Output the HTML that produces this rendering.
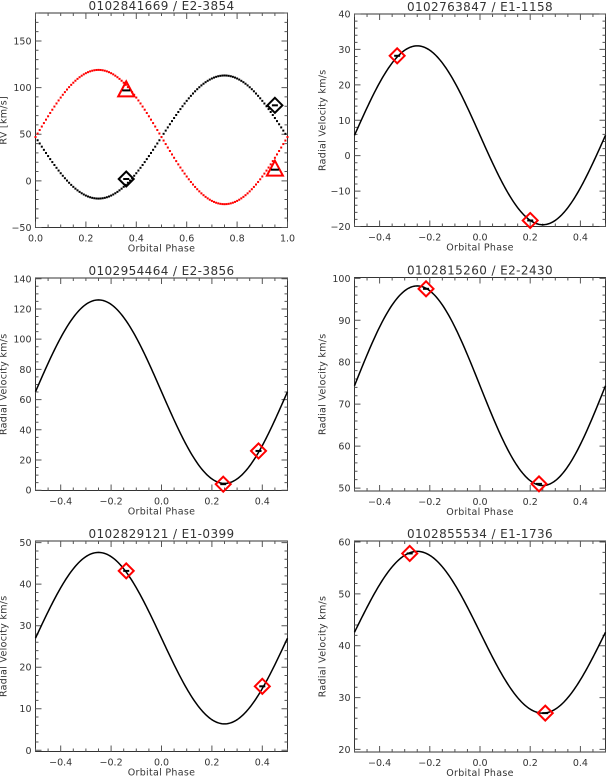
<!DOCTYPE html>
<html><head><meta charset="utf-8"><style>
body{margin:0;background:#fff;}
svg{display:block;font-family:"DejaVu Sans","Liberation Sans",sans-serif;}
text{fill:#333;}
</style></head><body>
<svg id="c" width="607" height="777" viewBox="0 0 607 777"></svg>
<script>
// Panel 1 (double-lined)
const p1Phase = [0.36, 0.95];
const p1Primary = [2, 81];
const p1Secondary = [97, 12];
const p1Gamma = [47, 47];
const p1K = [66, 72];
// Single-lined panels
const titles = ["0102763847 / E1-1158","0102954464 / E2-3856","0102815260 / E2-2430","0102829121 / E1-0399","0102855534 / E1-1736"];
const gammas = [5.75, 65.25, 74.4, 27.0, 42.6];
const amps = [25.25, 60.75, 23.8, 20.65, 15.6];
const obsPhase = [[-0.33,0.20],[0.245,0.385],[-0.215,0.235],[-0.14,0.40],[-0.28,0.26]];
const obsRV = [[28.2,-18.3],[4.0,26.0],[97.5,51.0],[43.2,15.4],[57.8,27.0]];
const yTicks = [[-20,-10,0,10,20,30,40],[0,20,40,60,80,100,120,140],[50,60,70,80,90,100],[0,10,20,30,40,50],[20,30,40,50,60]];
const xTicks = [-0.4,-0.2,0.0,0.2,0.4];
const p1XTicks = [0.0,0.2,0.4,0.6,0.8,1.0];
const p1YTicks = [-50,0,50,100,150];

const NS="http://www.w3.org/2000/svg";
const svg=document.getElementById('c');
function el(t,a,p){const e=document.createElementNS(NS,t);for(const k in a)e.setAttribute(k,a[k]);(p||svg).appendChild(e);return e;}

const boxes=[
 {x0:35.5,x1:287.5,y0:13,y1:227.5,xmin:0,xmax:1,ymin:-50,ymax:180,xminor:0.05,yminor:10},
 {x0:354.5,x1:605.5,y0:14,y1:226.5,xmin:-0.5,xmax:0.5,ymin:-20,ymax:40,xminor:0.05,yminor:2},
 {x0:35.5,x1:287.5,y0:278,y1:490.5,xmin:-0.5,xmax:0.5,ymin:-0.2,ymax:140.5,xminor:0.05,yminor:5},
 {x0:354.5,x1:605.5,y0:277.5,y1:491,xmin:-0.5,xmax:0.5,ymin:49.3,ymax:100.2,xminor:0.05,yminor:2},
 {x0:35.5,x1:287.5,y0:541,y1:751.5,xmin:-0.5,xmax:0.5,ymin:-0.3,ymax:50.4,xminor:0.05,yminor:2},
 {x0:354.5,x1:605.5,y0:541,y1:752,xmin:-0.5,xmax:0.5,ymin:19.5,ymax:60.2,xminor:0.05,yminor:2}
];
function sx(b,v){return b.x0+(v-b.xmin)/(b.xmax-b.xmin)*(b.x1-b.x0);}
function sy(b,v){return b.y1-(v-b.ymin)/(b.ymax-b.ymin)*(b.y1-b.y0);}

function axes(b,i,title,xt,yt,ytitle){
  const g=el('g',{});
  
  
  const r=el('rect',{x:b.x0,y:b.y0,width:b.x1-b.x0,height:b.y1-b.y0,fill:'none',stroke:'#333','stroke-width':1},g);
  
  
  const cx=(b.x0+b.x1)/2;
  const t=el('text',{x:cx,y:b.y0-3,'text-anchor':'middle','font-size':12,'letter-spacing':0.4},g);t.textContent=title;
  
  
  const xt2=el('text',{x:cx,y:b.y1+24,'text-anchor':'middle','font-size':9.5,'letter-spacing':0.3},g);xt2.textContent='Orbital Phase';
  
  
  const yx=b.x0-29, yy=(b.y0+b.y1)/2;
  const yt2=el('text',{x:yx,y:yy,'text-anchor':'middle','font-size':9.5,'letter-spacing':0.3,transform:`rotate(-90 ${yx} ${yy})`},g);yt2.textContent=ytitle;
  
  
  let d='';
  for(let v=b.xmin;v<=b.xmax+1e-9;v+=b.xminor){const x=sx(b,v);d+=`M${x} ${b.y1}v-3M${x} ${b.y0}v3`;}
  for(let v=Math.ceil(b.ymin/b.yminor)*b.yminor;v<=b.ymax+1e-9;v+=b.yminor){const y=sy(b,v);d+=`M${b.x0} ${y}h3M${b.x1} ${y}h-3`;}
  xt.forEach(v=>{const x=sx(b,v);d+=`M${x} ${b.y1}v-6M${x} ${b.y0}v6`;
    const l=el('text',{x:x,y:b.y1+14,'text-anchor':'middle','font-size':9.5},g);l.textContent=v.toFixed(1).replace('-','\u2212');
    
    });
  yt.forEach(v=>{const y=sy(b,v);d+=`M${b.x0} ${y}h6M${b.x1} ${y}h-6`;
    const l=el('text',{x:b.x0-4,y:y+3.5,'text-anchor':'end','font-size':9.5},g);l.textContent=String(v).replace('-','\u2212');
    
    });
  const tk=el('path',{d:d,stroke:'#555','stroke-width':1,fill:'none'},g);
  
  
  return g;
}
function diamond(g,x,y,col){
  const s=7.5;
  const m=el('path',{d:`M${x} ${y-s}L${x+s} ${y}L${x} ${y+s}L${x-s} ${y}Z`,fill:'none',stroke:col,'stroke-width':2},g);
  
  
  const e=el('path',{d:`M${x-3} ${y}h6`,stroke:'#000','stroke-width':2},g);
  
  
}
function triangle(g,x,y){
  const m=el('path',{d:`M${x} ${y-9}L${x+8} ${y+6}L${x-8} ${y+6}Z`,fill:'none',stroke:'#f00','stroke-width':2},g);
  
  
  const e=el('path',{d:`M${x-4} ${y}h8`,stroke:'#000','stroke-width':2},g);
  
  
}

{
  const b=boxes[0];
  const g=axes(b,0,"0102841669 / E2-3854",p1XTicks,p1YTicks,"RV [km/s]");
  const N=120;
  for(let s=0;s<2;s++){
    const col=s===0?'#000':'#f00', sign=s===0?-1:1;
    for(let i=0;i<=N;i++){
      const ph=i/N;
      const v=p1Gamma[s]+sign*p1K[s]*Math.sin(2*Math.PI*ph);
      const c=el('rect',{x:sx(b,ph)-1,y:sy(b,v)-1,width:2,height:2,fill:col},g);
      
      
    }
  }
  p1Phase.forEach((ph,i)=>{diamond(g,sx(b,ph),sy(b,p1Primary[i]),'#000');});
  p1Phase.forEach((ph,i)=>{triangle(g,sx(b,ph),sy(b,p1Secondary[i]));});
}
for(let p=0;p<5;p++){
  const b=boxes[p+1];
  const g=axes(b,p+1,titles[p],xTicks,yTicks[p],"Radial Velocity km/s");
  let d='';
  for(let i=0;i<=200;i++){
    const ph=-0.5+i/200;
    const v=gammas[p]-amps[p]*Math.sin(2*Math.PI*ph);
    d+=(i?'L':'M')+sx(b,ph).toFixed(2)+' '+sy(b,v).toFixed(2);
  }
  const c=el('path',{d:d,fill:'none',stroke:'#000','stroke-width':1.5},g);
  
  
  obsPhase[p].forEach((ph,i)=>diamond(g,sx(b,ph),sy(b,obsRV[p][i]),'#f00'));
}
</script>
</body></html>
